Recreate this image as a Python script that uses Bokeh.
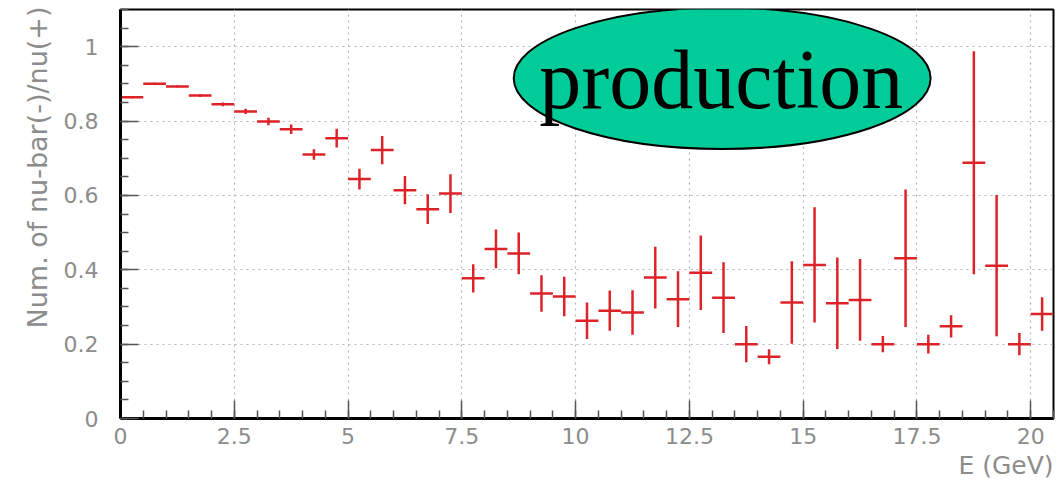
from bokeh.plotting import figure
from bokeh.models import (SingleIntervalTicker, CustomJSTickFormatter, Label,
                          ColumnDataSource, Range1d, Title)
from bokeh.embed import file_html
from bokeh.resources import INLINE

# --- data ---------------------------------------------------------------
bin_centers = [0.25, 0.75, 1.25, 1.75, 2.25, 2.75, 3.25, 3.75, 4.25, 4.75,
               5.25, 5.75, 6.25, 6.75, 7.25, 7.75, 8.25, 8.75, 9.25, 9.75,
               10.25, 10.75, 11.25, 11.75, 12.25, 12.75, 13.25, 13.75, 14.25, 14.75,
               15.25, 15.75, 16.25, 16.75, 17.25, 17.75, 18.25, 18.75, 19.25, 19.75,
               20.25]
bin_half_width = 0.25
ratio = [0.864, 0.900, 0.893, 0.869, 0.845, 0.826, 0.799, 0.778, 0.710, 0.754,
         0.644, 0.722, 0.614, 0.563, 0.605, 0.377, 0.456, 0.444, 0.336, 0.328,
         0.263, 0.290, 0.285, 0.379, 0.321, 0.392, 0.325, 0.200, 0.166, 0.312,
         0.413, 0.310, 0.319, 0.200, 0.431, 0.200, 0.248, 0.688, 0.411, 0.200,
         0.281]
ratio_err = [0.003, 0.003, 0.003, 0.004, 0.005, 0.007, 0.010, 0.013, 0.014, 0.025,
             0.028, 0.038, 0.038, 0.040, 0.052, 0.038, 0.052, 0.056, 0.049, 0.053,
             0.049, 0.054, 0.060, 0.083, 0.075, 0.100, 0.095, 0.049, 0.020, 0.111,
             0.155, 0.123, 0.110, 0.022, 0.185, 0.025, 0.030, 0.300, 0.190, 0.030,
             0.045]
x_label = "E (GeV)"
y_label = "Num. of nu-bar(-)/nu(+)"
badge_text = "production"

# --- derived columns ------------------------------------------------------
src = ColumnDataSource(dict(
    x=bin_centers,
    y=ratio,
    x0=[c - bin_half_width for c in bin_centers],
    x1=[c + bin_half_width for c in bin_centers],
    y0=[v - e for v, e in zip(ratio, ratio_err)],
    y1=[v + e for v, e in zip(ratio, ratio_err)],
))

p = figure(width=1064, height=488, output_backend="svg", toolbar_location=None,
           x_range=Range1d(0, 20.5), y_range=Range1d(0, 1.1),
           min_border_left=120, min_border_right=11, min_border_top=9,
           min_border_bottom=70)
p.background_fill_color = "white"
p.border_fill_color = "white"
p.outline_line_color = "black"
p.outline_line_width = 2

red = "#dd2228"
p.segment(x0="x0", y0="y", x1="x1", y1="y", source=src, line_color=red, line_width=2.5)
p.segment(x0="x", y0="y0", x1="x", y1="y1", source=src, line_color=red, line_width=2.5)

# badge
p.ellipse(x=[13.22], y=[0.915], width=[9.16], height=[0.38],
          fill_color="#00cc99", line_color="black", line_width=2)
p.add_layout(Label(x=13.2, y=0.913, text=badge_text, text_align="center",
                   text_baseline="alphabetic", text_font="Liberation Serif",
                   text_font_size="84px", text_color="black"))

fmt = CustomJSTickFormatter(code="return String(Math.round(tick*100)/100);")
p.xaxis.ticker = SingleIntervalTicker(interval=2.5, num_minor_ticks=5)
p.yaxis.ticker = SingleIntervalTicker(interval=0.2, num_minor_ticks=4)
for ax in (p.xaxis, p.yaxis):
    ax.formatter = fmt
    ax.axis_line_color = "black"
    ax.axis_line_width = 3
    ax.major_tick_in = 18
    ax.major_tick_out = 0
    ax.minor_tick_in = 8
    ax.minor_tick_out = 0
    ax.major_tick_line_color = "#555555"
    ax.minor_tick_line_color = "#555555"
    ax.major_tick_line_width = 1.5
    ax.minor_tick_line_width = 1.5
    ax.major_label_text_font = "DejaVu Sans"
    ax.major_label_text_font_size = "22px"
    ax.major_label_text_color = "#8c8c8c"
p.yaxis.major_label_standoff = 22
p.xaxis.major_label_standoff = 9

p.grid.grid_line_color = "#b4b4b4"
p.grid.grid_line_dash = "2 4"
p.grid.grid_line_width = 1.2

p.add_layout(Title(text=y_label, align="right", offset=-3, standoff=16,
                   text_font="DejaVu Sans", text_font_size="27px",
                   text_font_style="normal", text_color="#8c8c8c"), "left")
p.add_layout(Title(text=x_label, align="right", standoff=4,
                   text_font="DejaVu Sans", text_font_size="25px",
                   text_font_style="normal", text_color="#8c8c8c"), "below")

open("out.html", "w").write(file_html(p, INLINE))
